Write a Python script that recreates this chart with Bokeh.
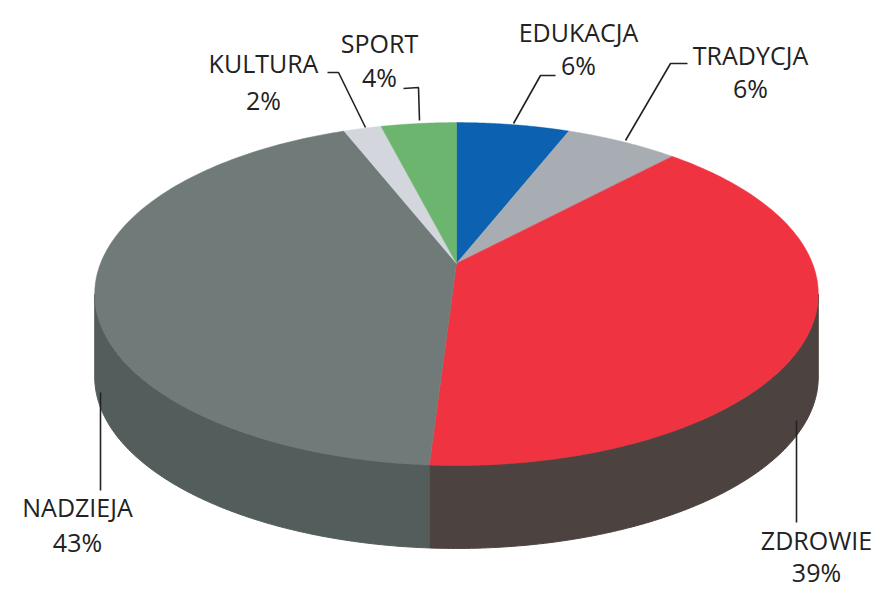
import numpy as np
from bokeh.plotting import figure
from bokeh.models import Range1d
from bokeh.core.properties import value
from bokeh.embed import file_html
from bokeh.resources import INLINE

# ---- data ----
categories = ["EDUKACJA", "TRADYCJA", "ZDROWIE", "NADZIEJA", "KULTURA", "SPORT"]
values = [6, 6, 39, 43, 2, 4]
top_colors = ["#0c62b0", "#a8adb3", "#ef3340", "#6f7a79", "#d3d7dd", "#6cb56f"]
side_colors = ["#08457c", "#7b7e83", "#4c4340", "#535d5b", "#9a9ca1", "#4c8450"]

# label placement (screen px): name line / percent line
label_x = [578, 750, 816, 77, 263, 379]
name_y = [31, 54, 539, 506, 62, 42]
pct_y = [64, 87, 571, 541, 99, 76]
leaders_x = [[513, 540, 555], [625, 670, 687], [796, 796], [100, 100], [365, 338, 327], [419, 418, 403]]
leaders_y = [[123, 75, 75], [140, 63, 63], [420, 522], [392, 490], [127, 72, 72], [120, 87, 88]]

# ---- geometry (perspective disc) ----
CX, CY = 456.0, 263.0
A, B = 356.0, 166.0
C = 0.178
H = 83.0


def proj(theta):
    X = np.sin(theta)
    Z = np.cos(theta)
    D = 1.0 + C * Z
    return CX + A * X / D, CY - B * Z / D


vis_lo = np.arccos(-C)
vis_hi = 2 * np.pi - np.arccos(-C)

W, Hh = 883, 590
p = figure(width=W, height=Hh, x_range=Range1d(0, W), y_range=Range1d(Hh, 0),
           output_backend="svg", toolbar_location=None,
           x_axis_location=None, y_axis_location=None, min_border=0)
p.grid.visible = False
p.outline_line_color = None
p.background_fill_color = "white"
p.border_fill_color = "white"

total = float(sum(values))
cum = np.concatenate([[0], np.cumsum(values)]) / total * 2 * np.pi

side_xs, side_ys, side_cols = [], [], []
top_xs, top_ys = [], []
for i in range(len(values)):
    a0, a1 = cum[i], cum[i + 1]
    t = np.linspace(a0, a1, 120)
    x, y = proj(t)
    top_xs.append(list(np.concatenate([[CX], x])))
    top_ys.append(list(np.concatenate([[CY], y])))
    s0, s1 = max(a0, vis_lo), min(a1, vis_hi)
    if s1 > s0:
        ts = np.linspace(s0, s1, 120)
        sx, sy = proj(ts)
        side_xs.append(list(np.concatenate([sx, sx[::-1]])))
        side_ys.append(list(np.concatenate([sy, sy[::-1] + H])))
        side_cols.append(side_colors[i])

p.patches(side_xs, side_ys, fill_color=side_cols, line_color=side_cols, line_width=1)
p.patches(top_xs, top_ys, fill_color=top_colors, line_color=top_colors, line_width=0.5)

p.multi_line(leaders_x, leaders_y, line_color="#222222", line_width=1.6)

pct_text = [f"{v}%" for v in values]
p.text(x=label_x, y=name_y, text=categories, text_align="center", text_baseline="alphabetic",
       text_font=value("Open Sans"), text_font_size="25px", text_color="#222222")
p.text(x=label_x, y=pct_y, text=pct_text, text_align="center", text_baseline="alphabetic",
       text_font=value("Open Sans"), text_font_size="25px", text_color="#222222")

open("out.html", "w").write(file_html(p, INLINE))
